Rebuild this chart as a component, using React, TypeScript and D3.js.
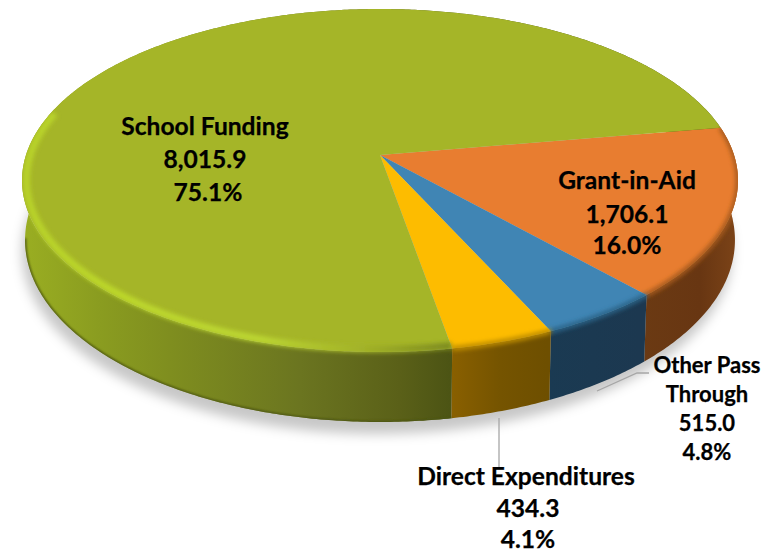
import React, { useEffect, useRef } from "react";
import * as d3 from "d3";

const categories = ["Grant-in-Aid", "Other Pass Through", "Direct Expenditures", "School Funding"];
const amounts = [1706.1, 515.0, 434.3, 8015.9];
const percents = ["16.0%", "4.8%", "4.1%", "75.1%"];

const topColors = ["#e87d30", "#4085b4", "#fdbc00", "#a5b528"];
const rimColors = ["#a65a1f", "#2c6387", "#bd8c00", "url(#rim-3)"];
const wallStops: [number, string][][] = [
    [[640, "#6b3a13"], [700, "#683612"], [739, "#7d4418"]],
    [[547, "#1a3a52"], [640, "#1c3850"]],
    [[450, "#8a6000"], [500, "#755400"], [547, "#6e4f00"]],
    [[22, "#9aae22"], [100, "#8a9c20"], [170, "#7f8e1f"], [300, "#6b7520"], [400, "#5a6018"], [450, "#4c5414"]],
];

// perspective of the disc: [x scale, y scale, centre y]
const K = 0.1487;
const CX = 380;
const TOP = { a: 354, b: 167.7, y0: 155 };
const BOTTOM = { a: 351, b: 177.9, y0: 213 };
const START_ANGLE = (80.4 * Math.PI) / 180;

const labels: { lines: string[]; x: number[]; y: number[]; size: number }[] = [
    { lines: ["Grant-in-Aid", "1,706.1", percents[0]], x: [627, 627, 627], y: [189, 223, 254], size: 24.6 },
    { lines: ["Other Pass", "Through", "515.0", percents[1]], x: [707, 707, 707, 707], y: [373, 402, 431, 460], size: 22 },
    { lines: ["Direct Expenditures", "434.3", percents[2]], x: [526, 528, 528], y: [485, 517, 547.8], size: 24.6 },
    { lines: ["School Funding", "8,015.9", percents[3]], x: [205, 205, 208], y: [135, 168, 201], size: 24.6 },
];
const leaders = [
    [[597, 391], [637, 373], [649, 373]],
    [[499, 418], [499, 467]],
];

type Plane = { a: number; b: number; y0: number };

const project = (p: Plane, angle: number, r = 1): [number, number] => {
    const u = r * Math.sin(angle);
    const v = -r * Math.cos(angle);
    const w = 1 - K * v;
    return [CX + (p.a * u) / w, p.y0 + (p.b * v) / w];
};

const arcPoints = (p: Plane, a0: number, a1: number, r = 1) => {
    const n = Math.max(2, Math.ceil(Math.abs(a1 - a0) / 0.01));
    return d3.range(n + 1).map((i) => project(p, a0 + ((a1 - a0) * i) / n, r));
};

const App: React.FC = () => {
    const svgRef = useRef<SVGSVGElement | null>(null);

    useEffect(() => {
        if (!svgRef.current) return;
        const svg = d3.select(svgRef.current);
        svg.selectAll("*").remove();

        const slices = d3
            .pie<number>()
            .sort(null)
            .startAngle(START_ANGLE)
            .endAngle(START_ANGLE + 2 * Math.PI)(amounts);

        const line = d3.line();
        const deg = (d: number) => (d * Math.PI) / 180;
        const defs = svg.append("defs");

        const blur = (id: string, sd: number) =>
            defs
                .append("filter")
                .attr("id", id)
                .attr("filterUnits", "userSpaceOnUse")
                .attr("x", 0)
                .attr("y", 0)
                .attr("width", 775)
                .attr("height", 553)
                .append("feGaussianBlur")
                .attr("stdDeviation", sd);
        blur("soft", 6);
        blur("edge", 2.2);
        blur("fine", 0.8);

        const linearX = (id: string, stops: [number, string][]) => {
            const x0 = stops[0][0];
            const x1 = stops[stops.length - 1][0];
            const g = defs
                .append("linearGradient")
                .attr("id", id)
                .attr("gradientUnits", "userSpaceOnUse")
                .attr("x1", x0)
                .attr("x2", x1)
                .attr("y1", 0)
                .attr("y2", 0);
            stops.forEach(([x, c]) =>
                g
                    .append("stop")
                    .attr("offset", (x - x0) / (x1 - x0))
                    .attr("stop-color", c)
            );
        };
        wallStops.forEach((s, i) => linearX(`wall-${i}`, s));
        linearX("rim-3", [
            [22, "#b8d22a"],
            [120, "#bdd82c"],
            [260, "#bcd632"],
            [360, "#a3b329"],
            [450, "#7c8a1f"],
        ]);

        const silhouette = [
            line(arcPoints(TOP, 0, 2 * Math.PI)),
            line(arcPoints(BOTTOM, 0, 2 * Math.PI)),
        ];
        const clip = defs.append("clipPath").attr("id", "disc");
        silhouette.forEach((d) => clip.append("path").attr("d", d));

        // shadow under the disc
        svg.append("g")
            .attr("filter", "url(#soft)")
            .append("path")
            .attr("d", silhouette[1] + "Z")
            .attr("transform", "translate(-3,12)")
            .attr("fill", "#000")
            .attr("fill-opacity", 0.22);

        // side walls, back to front
        [3, 0, 1, 2].forEach((i) => {
            const s = slices[i];
            const outer = arcPoints(TOP, s.startAngle, s.endAngle);
            const inner = arcPoints(BOTTOM, s.endAngle, s.startAngle);
            svg.append("path")
                .attr("d", line(outer.concat(inner)) + "Z")
                .attr("fill", `url(#wall-${i})`);
        });

        // dark foot of the green wall
        svg.append("g")
            .attr("clip-path", "url(#disc)")
            .append("path")
            .attr("d", line(arcPoints(BOTTOM, slices[3].startAngle, deg(262))))
            .attr("fill", "none")
            .attr("stroke", "#4c5512")
            .attr("stroke-width", 2.5)
            .attr("filter", "url(#fine)");

        // top faces
        slices.forEach((s, i) => {
            const centre = project(TOP, 0, 0);
            svg.append("path")
                .attr("d", line([centre, ...arcPoints(TOP, s.startAngle, s.endAngle)]) + "Z")
                .attr("fill", topColors[i]);
        });

        // bevel along the front rim
        const rim = svg.append("g").attr("clip-path", "url(#disc)");
        slices.forEach((s, i) => {
            const green = i === 3;
            rim.append("path")
                .attr("d", line(arcPoints(TOP, s.startAngle, green ? deg(285) : s.endAngle, green ? 0.988 : 1)))
                .attr("fill", "none")
                .attr("stroke", rimColors[i])
                .attr("stroke-width", green ? 7 : 5)
                .attr("filter", "url(#edge)");
        });

        // leader lines
        leaders.forEach((pts) => {
            svg.append("path")
                .attr("d", line(pts as [number, number][]))
                .attr("fill", "none")
                .attr("stroke", "#a6a6a6")
                .attr("stroke-width", 1.3);
        });

        // labels
        labels.forEach((l) => {
            const t = svg
                .append("g")
                .attr("font-family", "Lato, 'Open Sans', sans-serif")
                .attr("font-weight", 700)
                .attr("font-size", l.size)
                .attr("text-anchor", "middle")
                .attr("fill", "#000")
                .attr("stroke", "#000")
                .attr("stroke-width", 0.25);
            l.lines.forEach((txt, j) => {
                t.append("text").attr("x", l.x[j]).attr("y", l.y[j]).text(txt);
            });
        });
    }, []);

    return (
        <svg
            ref={svgRef}
            width={775}
            height={553}
            aria-label={categories.join(", ")}
            style={{ position: "absolute", left: 0, top: 0, background: "#fff" }}
        ></svg>
    );
};

export default App;
